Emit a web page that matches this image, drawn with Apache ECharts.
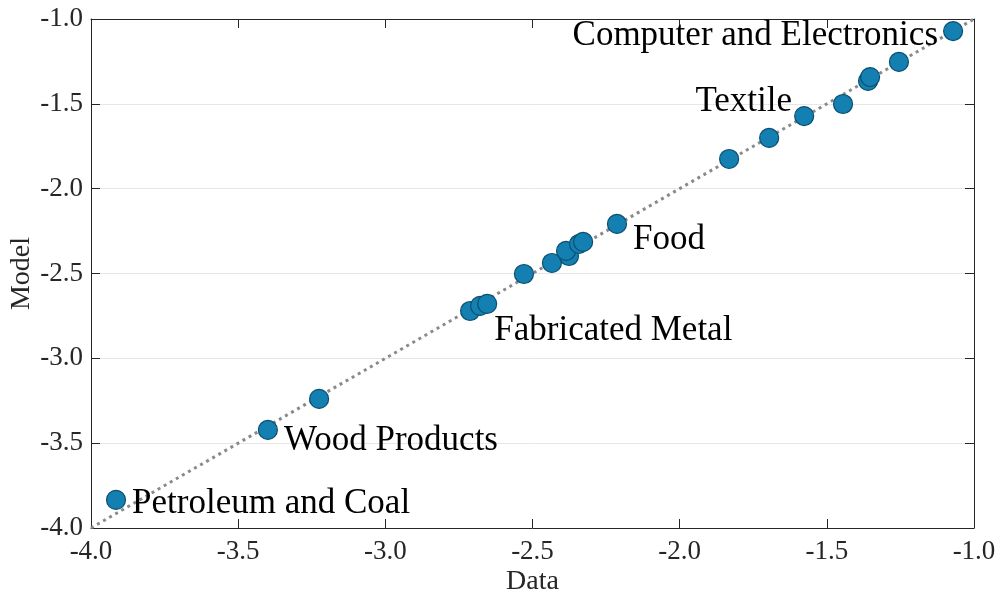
<!DOCTYPE html>
<html>
<head>
<meta charset="utf-8">
<script src="https://cdn.jsdelivr.net/npm/echarts@6/dist/echarts.min.js"></script>
<style>
  html, body { margin: 0; padding: 0; background: #fff; }
  #chart { width: 1001px; height: 597px; }
</style>
</head>
<body>
<div id="chart"></div>
<script>
// Industry-level comparison: observed (Data) vs predicted (Model)
const dataX = [-3.915, -3.399, -3.225, -2.712, -2.678, -2.654, -2.529, -2.434, -2.376, -2.386,
               -2.342, -2.328, -2.213, -1.832, -1.696, -1.577, -1.445, -1.360, -1.353, -1.255, -1.071];
const modelY = [-3.834, -3.422, -3.239, -2.721, -2.691, -2.679, -2.503, -2.438, -2.397, -2.367,
                -2.326, -2.314, -2.208, -1.825, -1.701, -1.572, -1.501, -1.365, -1.342, -1.253, -1.071];
const industryNames = ['Petroleum and Coal', 'Wood Products', '', '', '', 'Fabricated Metal', '', '', '', '',
                       '', '', 'Food', '', '', 'Textile', '', '', '', '', 'Computer and Electronics'];
const tickValues = [-4.0, -3.5, -3.0, -2.5, -2.0, -1.5, -1.0];
const diagonal = [[-4, -4], [-1, -1]];

const FONT = '"Liberation Serif", "DejaVu Serif", serif';

// Where each annotation sits relative to its marker
const labelPlacement = {
  'Petroleum and Coal':       { position: 'right', distance: 6, offset: [0, 4] },
  'Wood Products':            { position: 'right', distance: 6, offset: [0, 11] },
  'Fabricated Metal':         { position: 'right', distance: 0, offset: [-3, 27] },
  'Food':                     { position: 'right', distance: 6, offset: [0, 16] },
  'Textile':                  { position: 'left',  distance: 2, offset: [0, -14] },
  'Computer and Electronics': { position: 'left',  distance: 5, offset: [0, 5] }
};

const points = dataX.map((x, i) => {
  const name = industryNames[i];
  const item = { value: [x, modelY[i]], name: name };
  if (name) {
    const p = labelPlacement[name];
    item.label = {
      show: true,
      position: p.position,
      distance: p.distance,
      offset: p.offset,
      formatter: '{b}',
      fontFamily: FONT,
      fontSize: 35,
      color: '#000'
    };
  }
  return item;
});

const fmt = v => v.toFixed(1);
const boxColor = '#262626';

const baseAxis = {
  min: -4, max: -1, interval: 0.5,
  axisLine: { show: true, onZero: false, lineStyle: { color: boxColor, width: 1 } },
  axisTick: { show: true, inside: true, length: 9, lineStyle: { color: boxColor, width: 1 } },
  splitLine: { show: false }
};

const chart = echarts.init(document.getElementById('chart'), null, { renderer: 'canvas' });
chart.setOption({
  backgroundColor: '#ffffff',
  animation: false,
  grid: { left: 91, right: 27, top: 19, bottom: 69, containLabel: false, outerBoundsMode: 'none' },
  xAxis: [
    Object.assign({}, baseAxis, {
      type: 'value', position: 'bottom',
      name: 'Data', nameLocation: 'middle', nameGap: 40, nameMoveOverlap: false,
      nameTextStyle: { fontFamily: FONT, fontSize: 28, color: '#262626' },
      axisLabel: { formatter: fmt, margin: 10, fontFamily: FONT, fontSize: 27, color: '#262626' }
    }),
    Object.assign({}, baseAxis, {
      type: 'value', position: 'top',
      axisLabel: { show: false }
    })
  ],
  yAxis: [
    Object.assign({}, baseAxis, {
      type: 'value', position: 'left',
      name: 'Model', nameLocation: 'middle', nameGap: 55, nameMoveOverlap: false,
      nameTextStyle: { fontFamily: FONT, fontSize: 28, color: '#262626' },
      axisLabel: { formatter: fmt, margin: 8, fontFamily: FONT, fontSize: 27, color: '#262626' },
      splitLine: { show: true, lineStyle: { color: '#e6e6e6', width: 1 } }
    }),
    Object.assign({}, baseAxis, {
      type: 'value', position: 'right',
      axisLabel: { show: false }
    })
  ],
  series: [
    {
      type: 'line',
      data: diagonal,
      symbol: 'none',
      silent: true,
      z: 2,
      lineStyle: { color: '#8a8a8a', width: 3, type: [3, 4] }
    },
    {
      type: 'scatter',
      data: points,
      symbol: 'circle',
      symbolSize: 19,
      z: 3,
      itemStyle: { color: '#1380b1', borderColor: '#0b4f70', borderWidth: 1.2, opacity: 1 },
      label: { show: false }
    }
  ]
});
</script>
</body>
</html>
